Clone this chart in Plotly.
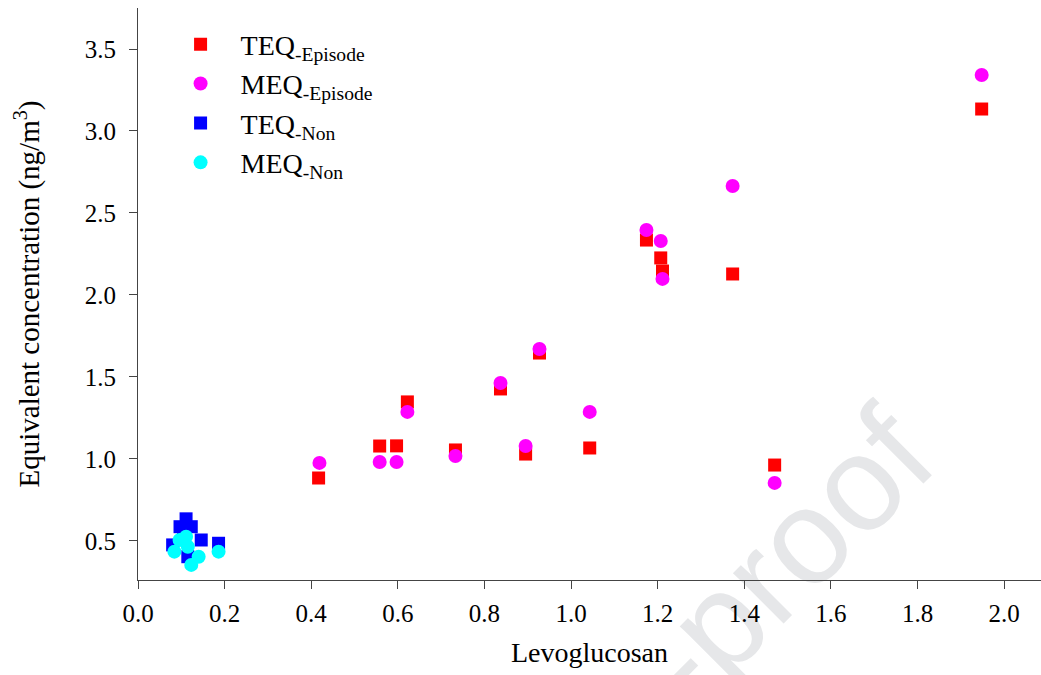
import plotly.graph_objects as go

# ---- data ----
teq_episode_x = [0.417, 0.558, 0.597, 0.622, 0.733, 0.837, 0.895, 0.927, 1.043, 1.174, 1.207, 1.211, 1.373, 1.470, 1.948]
teq_episode_y = [0.884, 1.079, 1.080, 1.348, 1.055, 1.427, 1.030, 1.646, 1.067, 2.335, 2.226, 2.146, 2.128, 0.963, 3.134]

meq_episode_x = [0.419, 0.558, 0.597, 0.622, 0.733, 0.837, 0.895, 0.927, 1.043, 1.174, 1.207, 1.211, 1.373, 1.470, 1.948]
meq_episode_y = [0.976, 0.982, 0.982, 1.287, 1.018, 1.463, 1.079, 1.671, 1.287, 2.396, 2.329, 2.098, 2.665, 0.854, 3.341]

teq_non_x = [0.111, 0.097, 0.123, 0.146, 0.080, 0.186, 0.115, 0.105]
teq_non_y = [0.635, 0.587, 0.587, 0.506, 0.476, 0.486, 0.404, 0.545]

meq_non_x = [0.111, 0.096, 0.115, 0.084, 0.140, 0.123, 0.186]
meq_non_y = [0.526, 0.506, 0.465, 0.435, 0.404, 0.354, 0.435]

x_ticks = [0.0, 0.2, 0.4, 0.6, 0.8, 1.0, 1.2, 1.4, 1.6, 1.8, 2.0]
y_ticks = [0.5, 1.0, 1.5, 2.0, 2.5, 3.0, 3.5]

SERIF = "Liberation Serif"

fig = go.Figure()
fig.add_trace(go.Scatter(x=teq_episode_x, y=teq_episode_y, mode="markers",
                         name="TEQ<sub>-Episode</sub>", legendgroup="a",
                         marker=dict(symbol="square", size=13, color="#ff0000")))
fig.add_trace(go.Scatter(x=meq_episode_x, y=meq_episode_y, mode="markers",
                         name="MEQ<sub>-Episode</sub>", legendgroup="b",
                         marker=dict(symbol="circle", size=14, color="#ff00ff")))
fig.add_trace(go.Scatter(x=teq_non_x, y=teq_non_y, mode="markers",
                         name="TEQ<sub>-Non</sub>", legendgroup="c",
                         marker=dict(symbol="square", size=13, color="#0000ff")))
fig.add_trace(go.Scatter(x=meq_non_x, y=meq_non_y, mode="markers",
                         name="MEQ<sub>-Non</sub>", legendgroup="d",
                         marker=dict(symbol="circle", size=14, color="#00ffff")))

fig.update_layout(
    width=1041, height=675,
    margin=dict(l=138, r=0, t=8, b=95, autoexpand=False),
    paper_bgcolor="white", plot_bgcolor="white",
    font=dict(family=SERIF, color="black"),
    showlegend=True,
    legend=dict(x=0.025, y=0.98, xanchor="left", yanchor="top",
                font=dict(family=SERIF, size=28, color="black"),
                bgcolor="rgba(0,0,0,0)", itemwidth=70, tracegroupgap=0),
    xaxis=dict(range=[0, 2.085], tickvals=x_ticks, tickformat=".1f",
               automargin=False,
               showline=True, linecolor="#444", linewidth=1,
               ticks="outside", ticklen=8, tickcolor="#444",
               showgrid=False, zeroline=False, ticklabelstandoff=3,
               tickfont=dict(family=SERIF, size=25, color="black"),
               title=dict(text="Levoglucosan", font=dict(family=SERIF, size=28, color="black"), standoff=16)),
    yaxis=dict(range=[0.262, 3.75], tickvals=y_ticks, tickformat=".1f",
               automargin=False,
               showline=True, linecolor="#444", linewidth=1,
               ticks="outside", ticklen=8, tickcolor="#444",
               showgrid=False, zeroline=False, ticklabelstandoff=8,
               tickfont=dict(family=SERIF, size=25, color="black"),
               title=dict(text="Equivalent concentration (ng/m<sup>3</sup>)",
                          font=dict(family=SERIF, size=29, color="black"), standoff=36)),
    shapes=[dict(type="rect", xref="paper", yref="paper",
                 x0=0.523, x1=0.723, y0=-0.174, y1=0.026,
                 line=dict(width=0), fillcolor="rgba(0,0,0,0)", layer="below",
                 label=dict(text="Pre-proof", textangle=-45, textposition="middle center",
                            font=dict(family="Liberation Sans", size=135,
                                      color="#e6e7e9")))],
)

fig.write_html("out.html",
               config={"displayModeBar": False},
               post_script="document.body.style.margin='0px';document.body.style.overflow='hidden';")
